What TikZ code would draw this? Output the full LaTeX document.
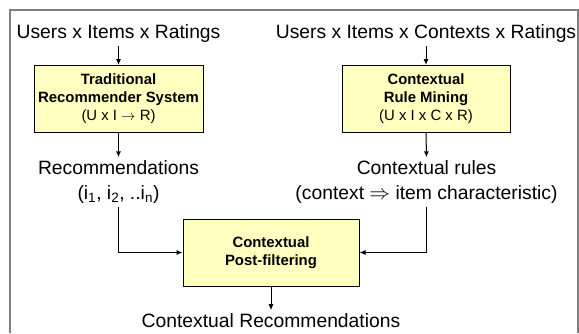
\documentclass[tikz,border=0pt]{standalone}
\usepackage{fontspec}
\setmainfont{Liberation Sans}
\usepackage{tikz}
\usetikzlibrary{arrows.meta}
\usepackage{xcolor}
\definecolor{boxfill}{RGB}{255,255,192}

\begin{document}
\begin{tikzpicture}[x=1pt,y=-1pt]
\tikzset{>={Latex[width=5pt,length=6pt]}}
\tikzstyle{block} =[draw=black,fill=boxfill,line width=1pt,minimum width=169pt,minimum height=67pt,align=center,font=\fontsize{14.9}{18}\selectfont]
\tikzstyle{txt} =[align=center,inner sep=3pt,font=\fontsize{19.3}{25}\selectfont]
\tikzstyle{conn} =[->,line width=1pt]
\useasboundingbox (0,0) rectangle (579,333);
\draw[gray,line width=2pt] (9.5,333) -- (9.5,9.5) -- (577.5,9.5) -- (577.5,333);

\node[txt](in1) at (118.5,34){Users x Items x Ratings};
\node[txt](in2) at (426,34){Users x Items x Contexts x Ratings};
\node[block](trs) at (118.5,99){\textbf{Traditional}\\\textbf{Recommender System}\\(U x I $\rightarrow$ R)};
\node[block,minimum width=168pt](crm) at (426,99){\textbf{Contextual}\\\textbf{Rule Mining}\\(U x I x C x R)};
\node[txt](rec) at (118.5,182){Recommendations\\(i\textsubscript{1}, i\textsubscript{2}, ..i\textsubscript{n})};
\node[txt](rules) at (426.5,182){Contextual rules\\(context $\Rightarrow$ item characteristic)};
\node[block,minimum width=176pt](post) at (271,252.5){\textbf{Contextual}\\\textbf{Post-filtering}};
\node[txt](out) at (271,320.5){Contextual Recommendations};

\draw [conn] (in1.south) -- (trs.north);
\draw [conn] (in2.south) -- (crm.north);
\draw [conn] (trs.south) -- (rec.north);
\draw [conn] (crm.south) -- (rules.north);
\draw [conn] (rec.south) |- (post.west);
\draw [conn] (rules.south) |- (post.east);
\draw [conn] (post.south) -- (out.north);
\end{tikzpicture}
\end{document}
